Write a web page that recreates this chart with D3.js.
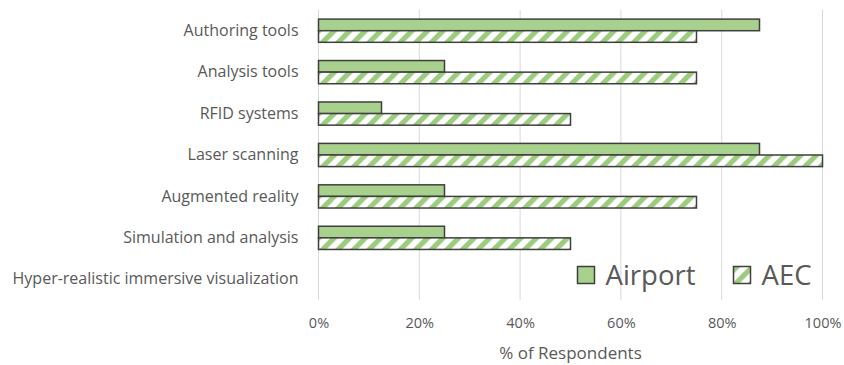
<!DOCTYPE html>
<html>
<head>
<meta charset="utf-8">
<script src="https://cdn.jsdelivr.net/npm/d3@7"></script>
<style>
  html, body { margin: 0; padding: 0; background: #fff; }
  svg { display: block; font-family: "Open Sans", sans-serif; }
</style>
</head>
<body>
<svg id="chart" width="844" height="365"></svg>
<script>
// Technologies surveyed, top to bottom
const categories = [
  "Authoring tools",
  "Analysis tools",
  "RFID systems",
  "Laser scanning",
  "Augmented reality",
  "Simulation and analysis",
  "Hyper-realistic immersive visualization"
];
// Share of respondents per group
const airportValues = [0.875, 0.25, 0.125, 0.875, 0.25, 0.25, 0];
const aecValues     = [0.75, 0.75, 0.5, 1.0, 0.75, 0.5, 0];
const seriesNames = ["Airport", "AEC"];
const tickValues = [0, 0.2, 0.4, 0.6, 0.8, 1.0];
const xTitle = "% of Respondents";

const svg = d3.select("#chart");
const margin = { left: 318.5, right: 21.5, top: 10, bottom: 65 };
const W = 844, H = 365;
const textColor = "#595959";
const green = "#a9d18e";
const edge = "#3f3f3f";

// diagonal stripe fill for the AEC series
const defs = svg.append("defs");
const pat = defs.append("pattern")
  .attr("id", "stripes")
  .attr("patternUnits", "userSpaceOnUse")
  .attr("width", 11)
  .attr("height", 11)
  .attr("patternTransform", "rotate(45)");
pat.append("rect").attr("width", 11).attr("height", 11).attr("fill", "#fff");
pat.append("rect").attr("width", 5.2).attr("height", 11).attr("fill", "#9ccc7e");

const x = d3.scaleLinear().domain([0, 1]).range([margin.left, W - margin.right]);
const y = d3.scaleBand().domain(categories).range([margin.top, H - margin.bottom]).paddingInner(0.44).paddingOuter(0.22);
const ySub = d3.scaleBand().domain(seriesNames).range([0, y.bandwidth()]);

// vertical gridlines
svg.append("g")
  .selectAll("line")
  .data(tickValues)
  .join("line")
  .attr("x1", d => x(d)).attr("x2", d => x(d))
  .attr("y1", margin.top).attr("y2", H - margin.bottom)
  .attr("stroke", "#d9d9d9")
  .attr("stroke-width", 1);

// x axis tick labels
const xAxis = d3.axisBottom(x).tickValues(tickValues).tickFormat(d3.format(".0%")).tickSize(0).tickPadding(0);
const gx = svg.append("g")
  .attr("transform", `translate(0,${H - margin.bottom + 18})`)
  .call(xAxis);
gx.select(".domain").remove();
gx.selectAll("text")
  .attr("fill", textColor)
  .attr("font-size", "14.5px")
  .attr("font-family", "Open Sans, sans-serif");

// category labels
const yAxis = d3.axisLeft(y).tickSize(0).tickPadding(0);
const gy = svg.append("g")
  .attr("transform", `translate(${margin.left - 20},0)`)
  .call(yAxis);
gy.select(".domain").remove();
gy.selectAll("text")
  .attr("fill", textColor)
  .attr("font-size", "16px")
  .attr("font-family", "Open Sans, sans-serif");

// bars
const rows = categories.map((c, i) => ({ c, vals: [airportValues[i], aecValues[i]] }));
const groups = svg.append("g")
  .selectAll("g")
  .data(rows)
  .join("g")
  .attr("transform", d => `translate(0,${y(d.c)})`);
groups.selectAll("rect")
  .data(d => d.vals.map((v, j) => ({ v, s: seriesNames[j] })).filter(e => e.v > 0))
  .join("rect")
  .attr("x", x(0))
  .attr("y", d => ySub(d.s))
  .attr("width", d => x(d.v) - x(0))
  .attr("height", ySub.bandwidth())
  .attr("fill", d => d.s === "Airport" ? green : "url(#stripes)")
  .attr("stroke", edge)
  .attr("stroke-width", 1.5);

// axis title
svg.append("text")
  .attr("x", (x(0) + x(1)) / 2)
  .attr("y", 359)
  .attr("text-anchor", "middle")
  .attr("fill", textColor)
  .attr("font-size", "17px")
  .text(xTitle);

// legend
const legendItems = [
  { name: "Airport", fill: green, xPos: 577.5 },
  { name: "AEC", fill: "url(#stripes)", xPos: 733.5 }
];
const lg = svg.append("g")
  .selectAll("g")
  .data(legendItems)
  .join("g")
  .attr("transform", d => `translate(${d.xPos},266.5)`);
lg.append("rect")
  .attr("width", 17).attr("height", 17)
  .attr("fill", d => d.fill)
  .attr("stroke", edge)
  .attr("stroke-width", 1.5);
lg.append("text")
  .attr("x", 28)
  .attr("y", 18.5)
  .attr("fill", textColor)
  .attr("font-size", "27.5px")
  .text(d => d.name);
</script>
</body>
</html>
